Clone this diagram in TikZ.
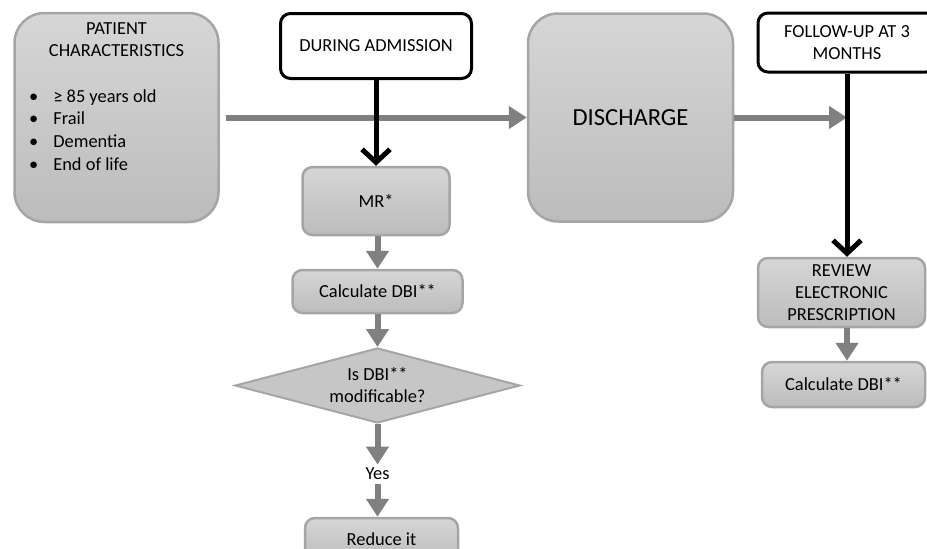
\documentclass[tikz,border=0pt]{standalone}
\usepackage{fontspec}
\setmainfont{Carlito}
\usetikzlibrary{arrows.meta,shapes.geometric}

\definecolor{boxTop}{RGB}{214,214,214}
\definecolor{boxBottom}{RGB}{188,188,188}
\definecolor{boxLine}{RGB}{165,165,165}
\definecolor{arrowGray}{RGB}{128,128,128}

\tikzset{
  greybox/.style={draw=boxLine, line width=2.5pt, top color=boxTop, bottom color=boxBottom,
    rounded corners=10pt, align=center, inner sep=0pt},
  bigbox/.style={greybox, rounded corners=30pt},
  stagebox/.style={draw=black, line width=3pt, fill=white, rounded corners=10pt,
    align=center, inner sep=0pt},
  decision/.style={diamond, aspect=3.8, draw=boxLine, line width=2pt, fill=boxBottom!85!white,
    align=center, inner sep=0pt},
  greyarrow/.style={draw=arrowGray, line width=6pt, -{Triangle[length=18pt,width=22pt]}},
  blackarrow/.style={draw=black, line width=5pt, -{Straight Barb[length=13pt,width=28pt]}}
}

\begin{document}
\begin{tikzpicture}[x=1pt, y=-1pt, font=\fontsize{18.4}{22}\selectfont]
    % Fix the page size and cut off what runs past it
    \useasboundingbox (0,0) rectangle (927,549);
    \clip (0,0) rectangle (927,549);

    % Patient box
    \node[bigbox, minimum width=204pt, minimum height=209pt] (patient) at (116.5,117.5) {};
    \node[align=center] (patientTitle) at (116.5,40) {PATIENT\\CHARACTERISTICS};
    \node[anchor=base west, inner sep=0pt, font=\fontsize{18.4}{22.7}\selectfont] (patientList) at (29,102)
      {\begin{tabular}[t]{@{}l@{\hspace{15pt}}l@{}}
        \textbullet & ≥ 85 years old\\
        \textbullet & Frail\\
        \textbullet & Dementia\\
        \textbullet & End of life
      \end{tabular}};

    % Admission column
    \node[stagebox, minimum width=191pt, minimum height=65pt] (during) at (376,46) {DURING ADMISSION};
    \node[greybox, minimum width=147pt, minimum height=68pt] (mr) at (376,201) {MR*};
    \node[greybox, minimum width=170pt, minimum height=43pt] (calcAdm) at (377.5,291.5) {Calculate DBI**};
    \node[decision, minimum width=285pt, minimum height=75pt] (check) at (377.5,385.5) {Is DBI**\\modificable?};
    \node (yes) at (377.5,474) {Yes};
    \node[greybox, minimum width=153pt, minimum height=43pt] (reduce) at (381.5,539.5) {Reduce it};

    % Discharge
    \node[bigbox, minimum width=205pt, minimum height=208pt, font=\fontsize{24.6}{28}\selectfont] (discharge) at (630.5,117.5) {DISCHARGE};

    % Follow-up column
    \node[stagebox, minimum width=178pt, minimum height=59pt] (follow) at (847,42.5) {FOLLOW-UP AT 3\\MONTHS};
    \node[greybox, minimum width=167pt, minimum height=69pt] (review) at (841.5,292.5) {REVIEW\\ELECTRONIC\\PRESCRIPTION};
    \node[greybox, minimum width=163pt, minimum height=45pt] (calcFollow) at (843.5,384.5) {Calculate DBI**};
    \coordinate (join) at (follow.south |- discharge.east);

    % Grey arrows
    \draw[greyarrow, shorten <=6pt] (patient.east) -- (discharge.west);
    \draw[greyarrow] (discharge.east) -- (join);
    \draw[greyarrow] (mr.south -| calcAdm.north) -- (calcAdm.north);
    \draw[greyarrow] (calcAdm.south) -- (check.north);
    \draw[greyarrow] (check.south) -- (yes.north);
    \draw[greyarrow] (yes.south) -- (yes.south |- reduce.north);
    \draw[greyarrow] (review.south -| join) -- (join |- calcFollow.north);

    % Black arrows
    \draw[blackarrow] (during.south) -- (during.south |- mr.north);
    \draw[blackarrow] (follow.south) -- (follow.south |- review.north);

\end{tikzpicture}
\end{document}
